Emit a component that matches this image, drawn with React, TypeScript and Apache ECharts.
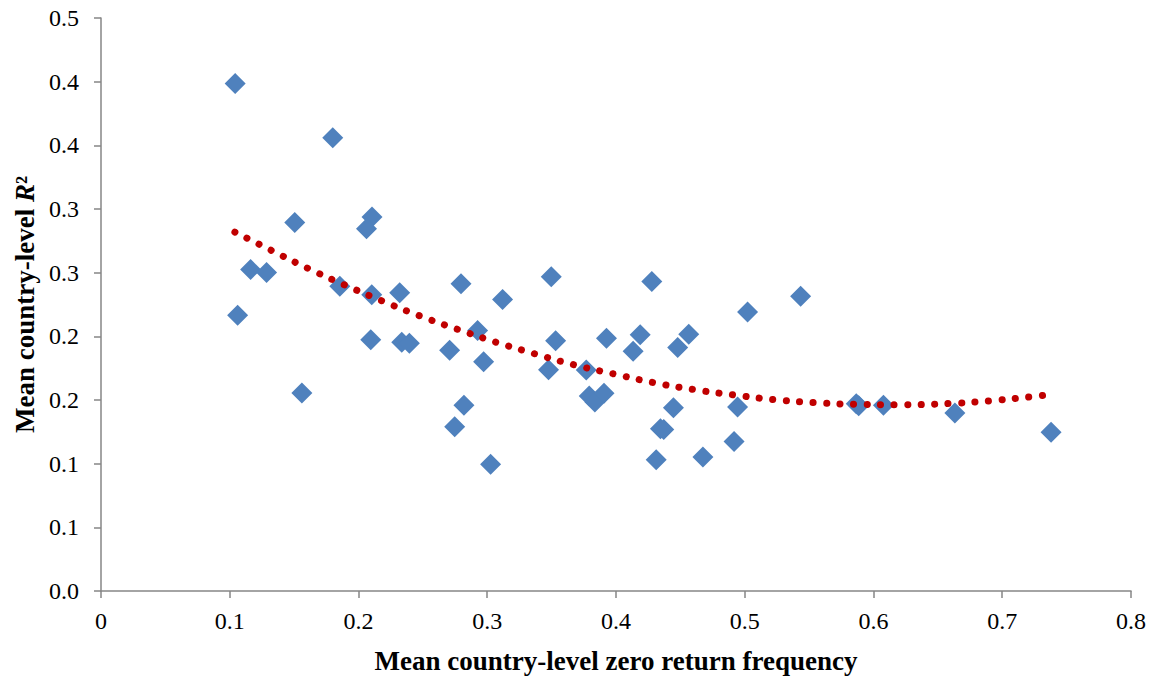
import React, { useEffect, useRef } from "react";
import * as echarts from "echarts";

const xValues = [
  0.1042, 0.18, 0.1505, 0.2105, 0.2062, 0.1162, 0.1286, 0.1061, 0.1855, 0.2103,
  0.232, 0.2095, 0.2336, 0.2395, 0.156, 0.2796, 0.3497, 0.3119, 0.2925, 0.2708,
  0.2972, 0.3531, 0.3476, 0.3926, 0.4188, 0.4133, 0.3769, 0.3792, 0.3836, 0.3907,
  0.2819, 0.2747, 0.3026, 0.4278, 0.5022, 0.4565, 0.4479, 0.4446, 0.4345, 0.4371,
  0.4312, 0.4675, 0.4944, 0.4917, 0.5434, 0.5866, 0.5885, 0.6077, 0.6632, 0.7379,
];
const yValues = [
  0.3985, 0.356, 0.2893, 0.2937, 0.2844, 0.2525, 0.2502, 0.2165, 0.2394, 0.2326,
  0.2342, 0.1974, 0.1954, 0.1946, 0.1555, 0.2412, 0.2467, 0.229, 0.2045, 0.1891,
  0.18, 0.1966, 0.1737, 0.1985, 0.2013, 0.1882, 0.1735, 0.1532, 0.1485, 0.1553,
  0.1458, 0.1289, 0.0996, 0.2431, 0.2191, 0.2016, 0.1912, 0.144, 0.1275, 0.1268,
  0.1031, 0.1052, 0.1445, 0.1175, 0.2314, 0.1471, 0.1455, 0.1458, 0.1398, 0.1246,
];

const trendX = [
  0.104, 0.1325, 0.1609, 0.1896, 0.2186, 0.2478, 0.2778, 0.3078, 0.3378, 0.3683,
  0.3991, 0.4301, 0.4611, 0.4922, 0.5238, 0.555, 0.5866, 0.6182, 0.6604, 0.6919,
  0.7232, 0.7335,
];
const trendY = [
  0.2819, 0.2674, 0.2533, 0.2402, 0.2277, 0.216, 0.2052, 0.1951, 0.186, 0.1774,
  0.1703, 0.1635, 0.1581, 0.1539, 0.1502, 0.1479, 0.1466, 0.1463, 0.1473, 0.1495,
  0.1526, 0.1539,
];

const xTickLabels = ["0", "0.1", "0.2", "0.3", "0.4", "0.5", "0.6", "0.7", "0.8"];
const yTickLabels = ["0.0", "0.1", "0.1", "0.2", "0.2", "0.3", "0.3", "0.4", "0.4", "0.5"];

const xTitle = "Mean country-level zero return frequency";
const yTitle = "Mean country-level {i|R}²";

const FONT = '"Liberation Serif", "Times New Roman", serif';

export default function App() {
  const ref = useRef<HTMLDivElement>(null);
  useEffect(() => {
    document.body.style.margin = "0";
    const chart = echarts.init(ref.current!, undefined, { renderer: "svg" });
    const axisLine = { show: true, lineStyle: { color: "#868686", width: 1.5 } };
    const axisTick = { show: true, length: 7, lineStyle: { color: "#868686", width: 1.5 } };
    chart.setOption({
      animation: false,
      backgroundColor: "#ffffff",
      grid: { left: 101, right: 20, top: 18, bottom: 87, containLabel: false },
      xAxis: {
        type: "value",
        min: 0,
        max: 0.8,
        interval: 0.1,
        splitLine: { show: false },
        axisLine,
        axisTick,
        axisLabel: {
          color: "#000",
          fontFamily: FONT,
          fontSize: 24,
          margin: 18,
          formatter: (v: number) => xTickLabels[Math.round(v / 0.1)] ?? "",
        },
        name: xTitle,
        nameLocation: "middle",
        nameGap: 56,
        nameTextStyle: { color: "#000", fontFamily: FONT, fontSize: 27, fontWeight: "bold" },
      },
      yAxis: {
        type: "value",
        min: 0,
        max: 0.45,
        interval: 0.05,
        splitLine: { show: false },
        axisLine,
        axisTick,
        axisLabel: {
          color: "#000",
          fontFamily: FONT,
          fontSize: 24,
          margin: 22,
          formatter: (v: number) => yTickLabels[Math.round(v / 0.05)] ?? "",
        },
        name: yTitle,
        nameLocation: "middle",
        nameGap: 60,
        nameTextStyle: {
          color: "#000",
          fontFamily: FONT,
          fontSize: 27,
          fontWeight: "bold",
          rich: {
            i: { fontFamily: FONT, fontSize: 27, fontWeight: "bold", fontStyle: "italic", color: "#000" },
          },
        },
      },
      series: [
        {
          type: "scatter",
          symbol: "diamond",
          symbolSize: 21,
          itemStyle: { color: "#4F81BD", opacity: 1 },
          data: xValues.map((x, i) => [x, yValues[i]]),
          z: 2,
        },
        {
          type: "line",
          smooth: true,
          showSymbol: false,
          symbol: "none",
          lineStyle: { color: "#C00000", width: 7, type: [0.1, 13.4], cap: "round" },
          data: trendX.map((x, i) => [x, trendY[i]]),
          z: 3,
        },
      ],
    });
    return () => chart.dispose();
  }, []);
  return <div ref={ref} style={{ width: 1151, height: 679 }} />;
}
